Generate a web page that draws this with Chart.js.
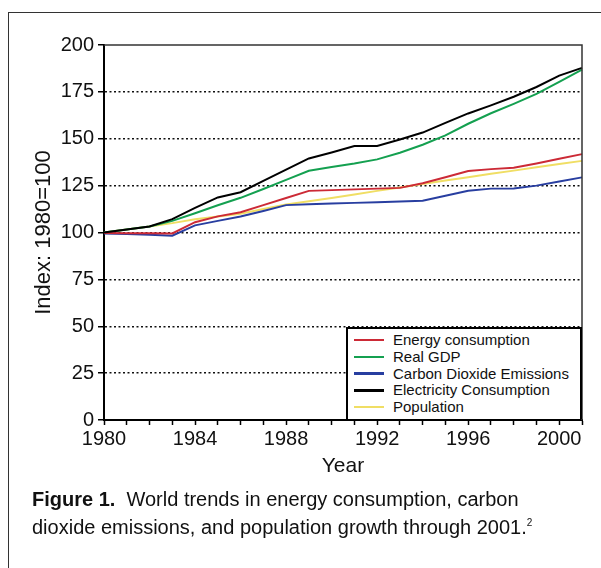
<!DOCTYPE html>
<html>
<head>
<meta charset="utf-8">
<script src="https://cdn.jsdelivr.net/npm/chart.js@4.4.1/dist/chart.umd.min.js"></script>
<style>
  body { margin: 0; background: #fff; font-family: "Liberation Sans", Arial, sans-serif; }
  #wrap { position: relative; width: 601px; height: 568px; overflow: hidden; }
  #frame { position: absolute; left: 8px; top: 12px; width: 700px; height: 700px;
           border-left: 1.5px solid #333; border-top: 1.5px solid #333; }
  #box { position: absolute; left: 0; top: 0; width: 601px; height: 490px; }
  #legend { position: absolute; left: 346px; top: 327px; width: 236px; height: 92px;
            background: #fff; border: 2px solid #000; border-bottom: none; box-sizing: border-box;
            padding-top: 3px; font-size: 15px; color: #111; }
  #legend div { height: 16.8px; line-height: 16.8px; white-space: nowrap; }
  #legend span.swatch { display: inline-block; width: 30px; height: 2.5px; vertical-align: middle;
                        margin: 0 9px 0 6px; position: relative; top: -1px; }
  #caption { position: absolute; left: 32px; top: 487px; font-size: 20px; line-height: 24px; color: #111; }
</style>
</head>
<body>
<div id="wrap">
  <div id="frame"></div>
  <div id="box"><canvas id="trends"></canvas></div>
  <div id="legend"></div>
  <div id="caption"><b>Figure 1.</b>&nbsp; World trends in energy consumption, carbon<br>dioxide emissions, and population growth through 2001.<sup style="font-size:10px">2</sup></div>
</div>
<script>
// years on the x axis
const years = ['1980','1981','1982','1983','1984','1985','1986','1987','1988','1989','1990',
               '1991','1992','1993','1994','1995','1996','1997','1998','1999','2000','2001'];

// index values, 1980 = 100
const energy = [99.7,99.6,99.6,99.5,105.5,108.6,110.8,114.6,118.4,122.2,122.6,
                123.0,123.4,123.8,126.3,129.5,132.8,133.8,134.5,136.8,139.3,141.8];
const gdp = [100,101.6,103.2,106.2,110.3,114.5,118.5,123.2,128.1,132.9,134.9,
             136.8,139.0,142.5,146.8,151.8,158.0,163.6,168.6,173.9,180.3,186.9];
const co2 = [99.5,99.2,98.8,98.3,103.8,106.2,108.5,111.5,114.6,115.1,115.5,
             115.8,116.1,116.5,116.9,119.6,122.3,123.4,123.5,125.0,127.2,129.4];
const electricity = [100,101.6,103.2,107.1,113.1,118.7,121.5,127.5,133.5,139.5,142.7,
                     146.1,146.1,149.6,153.3,158.5,163.5,167.8,172.4,177.6,183.7,187.8];
const population = [100,101.6,103.2,105.0,107.1,108.5,110.0,112.5,115.0,116.7,118.4,
                    120.3,122.2,124.0,125.9,127.7,129.5,131.3,133.0,134.8,136.5,138.2];

const names = ['Energy consumption', 'Real GDP', 'Carbon Dioxide Emissions', 'Electricity Consumption', 'Population'];
const series = [energy, gdp, co2, electricity, population];
const colors = ['rgb(204,42,54)', 'rgb(20,160,80)', 'rgb(40,62,160)', 'rgb(0,0,0)', 'rgb(240,222,100)'];
const drawOrder = [2, 3, 4, 1, 5];

const yTicks = [0, 25, 50, 75, 100, 125, 150, 175, 200];

// box around the plot area (top and right edges)
const plotBox = {
    id: 'plotBox',
    afterDatasetsDraw(chart) {
        const a = chart.chartArea, ctx = chart.ctx;
        ctx.save();
        ctx.strokeStyle = '#333';
        ctx.lineWidth = 1.5;
        ctx.beginPath();
        ctx.moveTo(a.left, a.top);
        ctx.lineTo(a.right, a.top);
        ctx.lineTo(a.right, a.bottom);
        ctx.stroke();
        ctx.restore();
    }
};

const trendsCanvas = document.getElementById('trends');
const trendsChart = new Chart(trendsCanvas, {
    type: 'line',
    data: {
        labels: years,
        datasets: series.map((s, i) => ({
            label: names[i],
            data: s,
            borderColor: colors[i],
            backgroundColor: colors[i],
            borderWidth: 2,
            pointRadius: 0,
            tension: 0,
            order: drawOrder[i],
        }))
    },
    options: {
        responsive: true,
        maintainAspectRatio: false,
        animation: false,
        layout: { padding: { left: 0, top: 45, right: 19, bottom: 0 } },
        plugins: { legend: { display: false }, tooltip: { enabled: false } },
        scales: {
            x: {
                offset: false,
                afterFit(scale) { scale.height = 70; },
                grid: { drawOnChartArea: false, drawTicks: true, tickLength: 5, tickColor: '#000', tickWidth: 1.5 },
                border: { color: '#000', width: 2 },
                ticks: {
                    autoSkip: false, maxRotation: 0, padding: 2, color: '#111',
                    font: { family: 'Liberation Sans', size: 20 },
                    callback(v, i) { return i % 4 === 0 ? years[i] : ''; }
                },
                title: { display: true, text: 'Year', color: '#111', padding: { top: 0, bottom: 11 },
                         font: { family: 'Liberation Sans', size: 21 } }
            },
            y: {
                min: 0,
                max: 200,
                afterFit(scale) { scale.width = 104; },
                afterBuildTicks(scale) { scale.ticks = yTicks.map(v => ({ value: v })); },
                grid: {
                    drawTicks: true, tickLength: 6, tickColor: '#000', tickWidth: 1.5, lineWidth: 1.5,
                    color(ctx) { return (ctx.tick.value === 0 || ctx.tick.value === 200) ? 'rgba(0,0,0,0)' : '#111'; }
                },
                border: { color: '#000', width: 2, dash: [2, 2.5] },
                ticks: { padding: 4, color: '#111', font: { family: 'Liberation Sans', size: 20 } },
                title: { display: true, text: 'Index: 1980=100', color: '#111', padding: { top: 31, bottom: 0 },
                         font: { family: 'Liberation Sans', size: 22 } }
            }
        }
    },
    plugins: [plotBox]
});

// legend box inside the plot
const legendDiv = document.getElementById('legend');
names.forEach((n, i) => {
    const row = document.createElement('div');
    row.innerHTML = '<span class="swatch" style="background:' + colors[i] + '"></span>' + n;
    legendDiv.appendChild(row);
});
</script>
</body>
</html>
